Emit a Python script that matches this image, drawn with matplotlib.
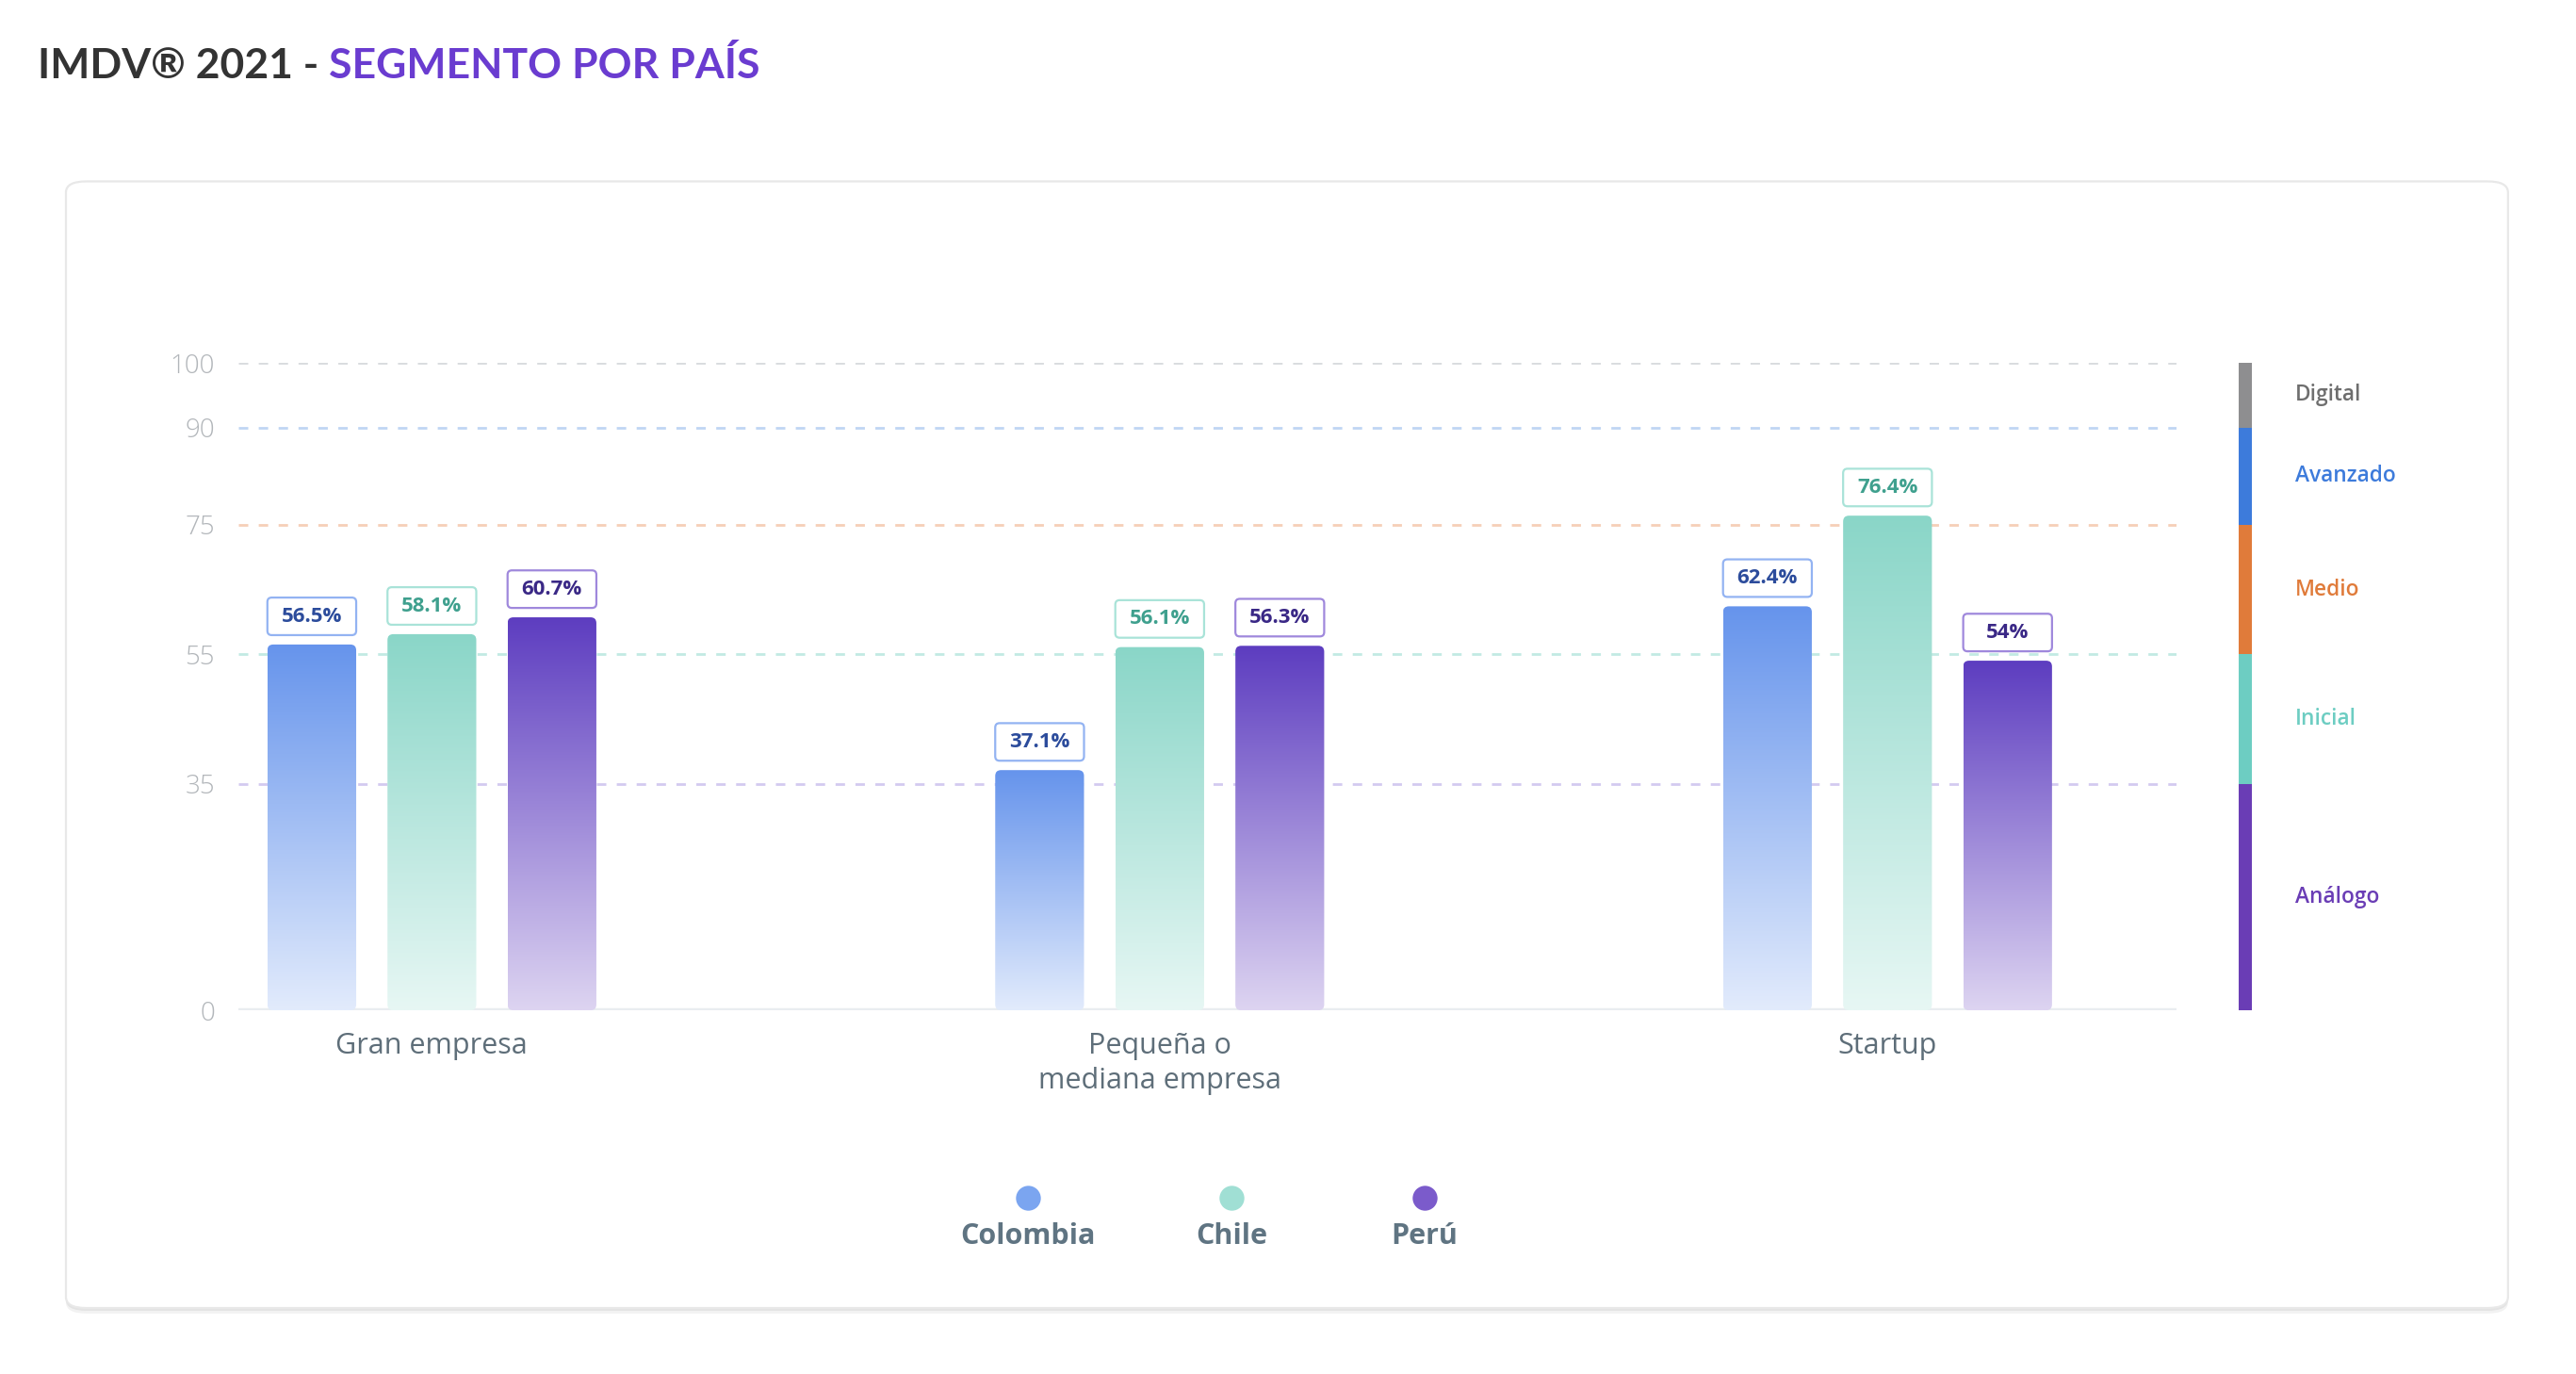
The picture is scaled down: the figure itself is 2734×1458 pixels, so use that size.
import numpy as np
import matplotlib
matplotlib.use('Agg')
import matplotlib.pyplot as plt
from matplotlib.patches import FancyBboxPatch
from matplotlib.lines import Line2D
from matplotlib.colors import to_rgb

plt.rcParams['font.family'] = ['Open Sans', 'DejaVu Sans']

# datos
categories = ['Gran empresa', 'Pequeña o\nmediana empresa', 'Startup']
countries = ['Colombia', 'Chile', 'Perú']
colombia = [56.5, 37.1, 62.4]
chile = [58.1, 56.1, 76.4]
peru = [60.7, 56.3, 54.0]
yticks = [0, 35, 55, 75, 90, 100]
levels = ['Análogo', 'Inicial', 'Medio', 'Avanzado', 'Digital']
level_bounds = [0, 35, 55, 75, 90, 100]

# estilos
bar_top = ['#6694EC', '#8AD6C8', '#5D3DC0']
bar_bottom = ['#E2EBFC', '#E7F7F4', '#DDD4F1']
box_edge = ['#93B3F2', '#A9E3D8', '#9F88DC']
box_text = ['#2C4C9C', '#3FA08E', '#3A2886']
legend_col = ['#7BA5F0', '#A0DFD4', '#7B5BCB']
level_col = ['#6A3DB5', '#6DCDC2', '#E07B3A', '#3D7BDB', '#8E8E90']
level_txt = ['#6A3DB5', '#6DCDC2', '#E07B3A', '#3D7BDB', '#6E6E6E']
grid_col = {35: '#D3CAF0', 55: '#C2EAE3', 75: '#F6CFB8', 90: '#C0D6F3', 100: '#D8DBDE'}

fig = plt.figure(figsize=(13.67, 7.29), dpi=200)
fig.patch.set_facecolor('white')

# tarjeta con sombra suave
for off, a in [(0.004, 0.05), (0.002, 0.06)]:
    fig.add_artist(FancyBboxPatch((0.0256, 0.048 - off), 0.948, 0.820,
                                  boxstyle='round,pad=0,rounding_size=0.008',
                                  transform=fig.transFigure, fc=(0, 0, 0, a),
                                  ec='none', zorder=-2))
fig.add_artist(FancyBboxPatch((0.0256, 0.048), 0.948, 0.820,
                              boxstyle='round,pad=0,rounding_size=0.008',
                              transform=fig.transFigure, fc='white',
                              ec='#E8E8E8', lw=0.8, zorder=-1))

ax = fig.add_axes([0.0925, 0.2647, 0.7524, 0.4712])
ax.set_zorder(2)
ax.set_facecolor('none')
xl = (-0.266, 2.397)

# líneas de referencia
for t in yticks[1:]:
    ax.axhline(t, color=grid_col[t], lw=1.0, dashes=(3.6, 4.0), zorder=1)
ax.axhline(0, color='#E9EDF0', lw=1.6, zorder=1)

w = 0.122
step = 0.165
aspect = 112
series = [colombia, chile, peru]
for i, vals in enumerate(series):
    top = np.array(to_rgb(bar_top[i]))
    bot = np.array(to_rgb(bar_bottom[i]))
    t = np.linspace(0, 1, 256)[:, None, None]
    img = bot * (1 - t) + top * t
    for g, v in enumerate(vals):
        x0 = g + (i - 1) * step - w / 2
        clip = FancyBboxPatch((x0, 0), w, v, boxstyle='round,pad=0,rounding_size=0.008',
                              mutation_aspect=aspect, fc='none', ec='none')
        ax.add_patch(clip)
        im = ax.imshow(img, extent=[x0, x0 + w, 0, v], origin='lower',
                       aspect='auto', zorder=2)
        im.set_clip_path(clip)
        # etiqueta de valor
        ax.add_patch(FancyBboxPatch((x0, v + 1.45), w, 5.8,
                                    boxstyle='round,pad=0,rounding_size=0.006',
                                    mutation_aspect=aspect, fc='white',
                                    ec=box_edge[i], lw=0.8, zorder=3))
        ax.text(x0 + w / 2, v + 4.35, f'{v:g}%', ha='center', va='center',
                fontsize=8, fontweight='bold', color=box_text[i], zorder=4)

# barra de niveles
xs = 2.492
for k, name in enumerate(levels):
    lo, hi = level_bounds[k], level_bounds[k + 1]
    ax.bar(xs, hi - lo, bottom=lo, width=0.018, color=level_col[k],
           clip_on=False, zorder=2)
    ax.text(2.56, (lo + hi) / 2, name, ha='left', va='center', fontsize=8.2,
            fontweight='semibold', color=level_txt[k], clip_on=False)

ax.set_xlim(*xl)
ax.set_ylim(0, 100)
ax.set_yticks(yticks)
ax.tick_params(axis='y', length=0, pad=9, labelsize=10, labelcolor='#B2B6BA')
for lbl in ax.get_yticklabels():
    lbl.set_fontweight('light')
ax.set_xticks([])
for s in ax.spines.values():
    s.set_visible(False)

for g, name in enumerate(categories):
    ax.text(g, -3.4, name, ha='center', va='top', fontsize=11,
            color='#5E6E79', linespacing=1.3, clip_on=False)

# leyenda
for x, name, c in zip([0.399, 0.478, 0.553], countries, legend_col):
    fig.add_artist(Line2D([x], [0.1283], marker='o', ms=9.5, color=c,
                          mec='none', transform=fig.transFigure))
    fig.text(x, 0.1, name, ha='center', va='center', fontsize=11,
             fontweight='bold', color='#5F7482')

# título
t1 = fig.text(0.0146, 0.952, 'IMDV® 2021 - ', fontsize=16, fontweight='bold',
              color='#333333', family=['Lato', 'DejaVu Sans'], va='center')
ax.annotate('SEGMENTO POR PAÍS', xy=(1, 0), xycoords=t1, va='bottom',
            fontsize=16, fontweight='bold', color='#6A3CD0',
            family=['Lato', 'DejaVu Sans'], annotation_clip=False)

fig.savefig('out.png', dpi=200)
